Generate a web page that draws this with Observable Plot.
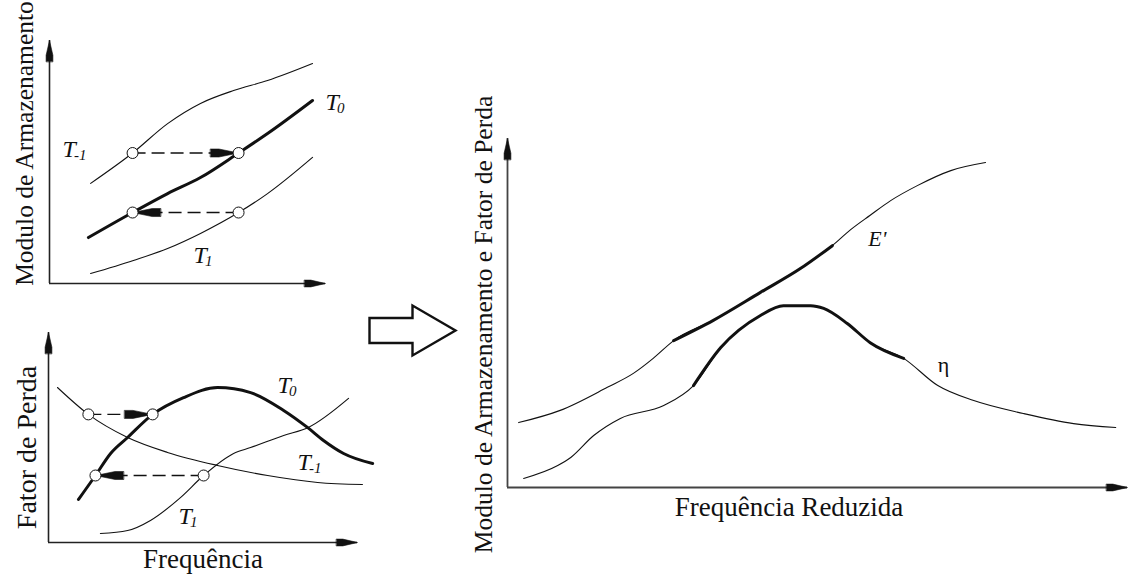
<!DOCTYPE html>
<html>
<head>
<meta charset="utf-8">
<script src="https://cdn.jsdelivr.net/npm/d3@7"></script>
<script src="https://cdn.jsdelivr.net/npm/@observablehq/plot@0.6"></script>
<style>
  html, body { margin: 0; padding: 0; background: #fff; }
  #fig { position: relative; width: 1133px; height: 579px; overflow: hidden; background: #fff; }
  #fig > svg { position: absolute; overflow: visible; }
</style>
</head>
<body>
<div id="fig"></div>
<script>
// ---------------- DATA (schematic values, arbitrary units 0–10) ----------------
// Top-left panel: storage modulus vs frequency at three temperatures
const storageTminus1 = [[1.49,4.12],[3.01,5.37],[4.28,6.58],[5.47,7.41],[6.67,7.94],[7.90,8.35],[9.53,9.05]];
const storageT0      = [[1.41,1.89],[3.01,2.92],[4.28,3.70],[5.47,4.36],[6.85,5.37],[7.90,6.17],[9.53,7.53]];
const storageT1      = [[1.49,0.41],[3.04,0.95],[4.28,1.44],[5.47,2.06],[6.85,2.92],[7.90,3.70],[9.53,5.19]];
const storagePoints  = [[3.01,5.37],[6.85,5.37],[3.01,2.92],[6.85,2.92]];
const storageShifts  = [{from:3.01, to:6.85, y:5.37}, {from:6.85, to:3.01, y:2.92}];
const storageLabels  = [{x:10.0, y:7.12, name:"T", sub:"0"}, {x:0.47, y:5.19, name:"T", sub:"-1"}, {x:5.22, y:0.86, name:"T", sub:"1"}];

// Bottom-left panel: loss factor vs frequency
const lossT0      = [[0.97,2.05],[1.52,3.19],[2.01,4.24],[2.56,5.0],[3.37,6.10],[4.37,6.90],[5.47,7.38],[6.54,7.14],[7.61,6.29],[8.38,5.48],[8.90,4.86],[9.55,4.24],[10.49,3.76]];
const lossTminus1 = [[0.29,7.38],[1.29,6.10],[2.56,5.0],[3.85,4.29],[5.47,3.67],[7.09,3.19],[8.71,2.86],[10.16,2.76]];
const lossT1      = [[1.68,0.43],[2.56,0.57],[3.30,1.05],[4.27,2.14],[5.02,3.19],[5.99,4.24],[6.54,4.52],[7.61,5.10],[8.41,5.48],[9.71,6.86]];
const lossPoints  = [[1.29,6.10],[3.37,6.10],[1.52,3.19],[5.02,3.19]];
const lossShifts  = [{from:1.29, to:3.37, y:6.10}, {from:5.02, to:1.52, y:3.19}];
const lossLabels  = [{x:7.41, y:7.10, name:"T", sub:"0"}, {x:8.06, y:3.43, name:"T", sub:"-1"}, {x:4.21, y:0.90, name:"T", sub:"1"}];

// Right panel: master curves vs reduced frequency
const masterE   = [[0.18,1.86],[0.85,2.21],[1.61,2.87],[2.03,3.27],[2.35,3.70],[2.68,4.21],[3.32,4.79],[4.08,5.59],[4.73,6.28],[5.24,6.93],[5.53,7.38],[5.85,7.80],[6.18,8.22],[6.61,8.65],[7.15,9.08],[7.71,9.31]];
const masterEta = [[0.26,0.26],[0.81,0.63],[1.02,0.86],[1.39,1.49],[1.82,1.98],[2.52,2.35],[3.0,2.92],[3.44,4.01],[4.08,4.93],[4.45,5.21],[4.89,5.21],[5.10,5.13],[5.48,4.70],[5.85,4.15],[6.39,3.70],[6.94,2.92],[7.52,2.49],[8.32,2.12],[9.13,1.83],[9.81,1.72]];
const masterEThick   = [2.68, 5.24];   // x-range of the shifted (bold) part
const masterEtaThick = [3.0, 6.39];
const masterELabel   = [{x:5.82, y:6.93, name:"E'"}];
const masterEtaLabel = [{x:6.94, y:3.30, name:"η"}];

// Texts
const topYLabel    = "Modulo de Armazenamento";
const bottomYLabel = "Fator de Perda";
const bottomXLabel = "Frequência";
const rightYLabel  = "Modulo de Armazenamento e Fator de Perda";
const rightXLabel  = "Frequência Reduzida";

// ---------------- HELPERS ----------------
const FONT = "'Liberation Serif', 'Times New Roman', serif";
const X = d => d[0], Y = d => d[1];

// arrowhead: rectangular back, tapering to the tip
const head = {
  draw(ctx, l, r) {
    ctx.moveTo(-r, 0);
    ctx.lineTo(-r, -l * 0.3);
    ctx.lineTo(0, -l);
    ctx.lineTo(r, -l * 0.3);
    ctx.lineTo(r, 0);
    ctx.closePath();
  }
};
// hollow block arrow
const blockArrow = {
  draw(ctx, l, r) {
    const b = r * 0.5;
    ctx.moveTo(-b, 0);
    ctx.lineTo(-b, -l * 0.5);
    ctx.lineTo(-r, -l * 0.5);
    ctx.lineTo(0, -l);
    ctx.lineTo(r, -l * 0.5);
    ctx.lineTo(b, -l * 0.5);
    ctx.lineTo(b, 0);
    ctx.closePath();
  }
};

function axesMarks(color, width) {
  return [
    Plot.ruleY([0], {x1: 0, x2: 10, stroke: color, strokeWidth: width}),
    Plot.ruleX([0], {y1: 0, y2: 10, stroke: color, strokeWidth: width}),
    Plot.vector([{x: 10, y: 0, a: 90}, {x: 0, y: 10, a: 0}], {
      x: "x", y: "y", rotate: "a", length: 21, r: 3.4, shape: head, anchor: "end",
      fill: "#111", stroke: "#111", strokeWidth: 0.6
    })
  ];
}

function shiftMarks(shifts, points) {
  return [
    Plot.link(shifts, {x1: "from", x2: "to", y1: "y", y2: "y", stroke: "#111", strokeWidth: 1.4, strokeDasharray: "13,6"}),
    Plot.vector(shifts, {
      x: "to", y: "y", rotate: d => (d.to > d.from ? 90 : -90), length: 28, r: 4, shape: head, anchor: "end",
      fill: "#111", stroke: "#111", strokeWidth: 0.6
    }),
    Plot.dot(points, {x: X, y: Y, r: 5.5, fill: "white", stroke: "#111", strokeWidth: 1})
  ];
}

function tLabelMarks(labels) {
  return [
    Plot.text(labels, {x: "x", y: "y", text: "name", textAnchor: "start", lineAnchor: "bottom",
      fontSize: 24, fontStyle: "italic", fontFamily: FONT, fill: "#111"}),
    Plot.text(labels, {x: "x", y: "y", text: "sub", textAnchor: "start", lineAnchor: "bottom",
      dx: 11.5, dy: 3, fontSize: 15, fontStyle: "italic", fontFamily: FONT, fill: "#111"})
  ];
}

function curve(data, width) {
  return Plot.line(data, {x: X, y: Y, curve: "monotone-x", stroke: "#111", strokeWidth: width, strokeLinecap: "round"});
}

function place(svg, left, top) {
  svg.style.left = left + "px";
  svg.style.top = top + "px";
  document.getElementById("fig").appendChild(svg);
}

const common = {
  x: {domain: [0, 10], axis: null},
  y: {domain: [0, 10], axis: null},
  style: {fontFamily: FONT, background: "transparent", overflow: "visible"}
};

// ---------------- PANEL A (top-left) ----------------
const panelA = Plot.plot({
  ...common,
  width: 380, height: 300,
  marginLeft: 49, marginRight: 55, marginTop: 40, marginBottom: 17,
  marks: [
    ...axesMarks("#222", 1.6),
    curve(storageTminus1, 1.1),
    curve(storageT1, 1.1),
    curve(storageT0, 3),
    ...shiftMarks(storageShifts, storagePoints),
    ...tLabelMarks(storageLabels),
    Plot.text([topYLabel], {text: d => d, frameAnchor: "left", rotate: -90, textAnchor: "middle", lineAnchor: "bottom",
      dx: -17, dy: -18.5, fontSize: 25.5, fontFamily: FONT, fill: "#111"})
  ]
});
place(panelA, 0, 0);

// ---------------- PANEL B (bottom-left) ----------------
const panelB = Plot.plot({
  ...common,
  width: 380, height: 279,
  marginLeft: 48, marginRight: 23, marginTop: 32, marginBottom: 37,
  marks: [
    ...axesMarks("#222", 1.6),
    curve(lossTminus1, 1.1),
    curve(lossT1, 1.1),
    curve(lossT0, 3),
    ...shiftMarks(lossShifts, lossPoints),
    ...tLabelMarks(lossLabels),
    Plot.text([bottomYLabel], {text: d => d, frameAnchor: "left", rotate: -90, textAnchor: "middle", lineAnchor: "bottom",
      dx: -13, dy: 10, fontSize: 28, fontFamily: FONT, fill: "#111"}),
    Plot.text([bottomXLabel], {text: d => d, frameAnchor: "bottom", textAnchor: "middle", lineAnchor: "bottom",
      dx: 0, dy: 25, fontSize: 27, fontFamily: FONT, fill: "#111"})
  ]
});
place(panelB, 0, 300);

// ---------------- HOLLOW ARROW ----------------
const arrowPlot = Plot.plot({
  width: 100, height: 70, margin: 0,
  x: {axis: null}, y: {axis: null},
  style: {background: "transparent", overflow: "visible"},
  marks: [
    Plot.vector([0], {frameAnchor: "left", rotate: 90, length: 86, r: 25, shape: blockArrow, anchor: "start",
      fill: "white", stroke: "#111", strokeWidth: 2.4, strokeLinejoin: "miter"})
  ]
});
place(arrowPlot, 369, 295);

// ---------------- PANEL C (right) ----------------
const panelC = Plot.plot({
  ...common,
  width: 693, height: 499,
  marginLeft: 67, marginRight: 6, marginTop: 58, marginBottom: 92,
  marks: [
    ...axesMarks("#444", 1.8),
    curve(masterE, 1.1),
    curve(masterE.filter(d => d[0] >= masterEThick[0] && d[0] <= masterEThick[1]), 3),
    curve(masterEta, 1.1),
    curve(masterEta.filter(d => d[0] >= masterEtaThick[0] && d[0] <= masterEtaThick[1]), 3),
    Plot.text(masterELabel, {x: "x", y: "y", text: "name", textAnchor: "start", lineAnchor: "bottom",
      fontSize: 22, fontStyle: "italic", fontFamily: FONT, fill: "#111"}),
    Plot.text(masterEtaLabel, {x: "x", y: "y", text: "name", textAnchor: "start", lineAnchor: "bottom",
      fontSize: 22, fontFamily: FONT, fill: "#111"}),
    Plot.text([rightYLabel], {text: d => d, frameAnchor: "left", rotate: -90, textAnchor: "middle", lineAnchor: "bottom",
      dx: -16, dy: 11.5, fontSize: 25.5, fontFamily: FONT, fill: "#111"}),
    Plot.text([rightXLabel], {text: d => d, frameAnchor: "bottom", textAnchor: "middle", lineAnchor: "bottom",
      dx: -28.5, dy: 28, fontSize: 27, fontFamily: FONT, fill: "#111"})
  ]
});
place(panelC, 440, 80);
</script>
</body>
</html>
